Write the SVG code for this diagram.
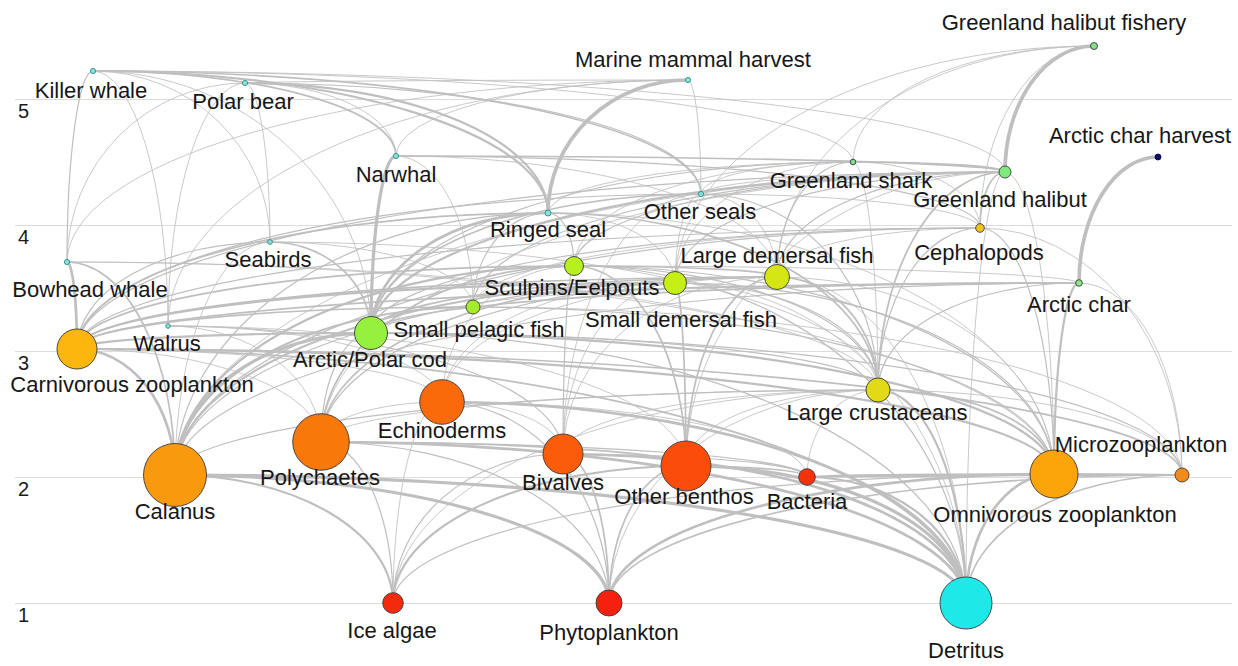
<svg xmlns="http://www.w3.org/2000/svg" width="1238" height="666" viewBox="0 0 1238 666">
<style>
.bg{fill:#ffffff}
.grid line{stroke:#dcdcdc;stroke-width:1}
.ax{font-family:"Liberation Sans",Arial,sans-serif;font-size:20px;fill:#1a1a1a}
.lb{font-family:"Liberation Sans",Arial,sans-serif;font-size:22px;fill:#161616;text-anchor:middle}
#connectors path{fill:none;stroke:#bfbfbf;stroke-linecap:round}
.a{stroke-width:0.85}
.b{stroke-width:1.2}
.c{stroke-width:1.7}
.d{stroke-width:2.2}
.e{stroke-width:2.7}
.f{stroke-width:3.2}
.g{stroke-width:3.7}
.n{stroke:#3a3a3a;stroke-width:0.9}
.m{fill:#86e3da;stroke:#2f8c86;stroke-width:0.9}
</style>
<rect class="bg" x="0" y="0" width="1238" height="666"/>
<g class="grid" id="grid">
<line x1="15" y1="99.5" x2="1232" y2="99.5"/>
<line x1="15" y1="225.5" x2="1232" y2="225.5"/>
<line x1="15" y1="351.5" x2="1232" y2="351.5"/>
<line x1="15" y1="477.5" x2="1232" y2="477.5"/>
<line x1="15" y1="603.5" x2="1232" y2="603.5"/>
<text class="ax" x="18" y="118">5</text>
<text class="ax" x="18" y="244">4</text>
<text class="ax" x="18" y="370">3</text>
<text class="ax" x="18" y="496">2</text>
<text class="ax" x="18" y="622">1</text>
</g>
<g id="connectors">
<path class="g" d="M548 213A140 133 0 0 1 688 80"/>
<path class="a" d="M701 194A13 114 0 0 0 688 80"/>
<path class="a" d="M396 156A292 76 0 0 1 688 80"/>
<path class="a" d="M168 326A520 246 0 0 1 688 80"/>
<path class="a" d="M67 262A621 182 0 0 1 688 80"/>
<path class="a" d="M245 83A443 3 0 0 1 688 80"/>
<path class="g" d="M1005 172A89 126 0 0 1 1094 46"/>
<path class="a" d="M853 162A241 116 0 0 1 1094 46"/>
<path class="a" d="M777 277A317 231 0 0 1 1094 46"/>
<path class="g" d="M1079 283A79 126 0 0 1 1158 157"/>
<path class="a" d="M675 283A419 237 0 0 1 1094 46"/>
<path class="a" d="M980 228A114 182 0 0 1 1094 46"/>
<path class="b" d="M67 262A26 191 0 0 1 93 71"/>
<path class="c" d="M396 156A303 85 0 0 0 93 71"/>
<path class="d" d="M548 213A455 142 0 0 0 93 71"/>
<path class="c" d="M701 194A608 123 0 0 0 93 71"/>
<path class="a" d="M168 326A75 255 0 0 0 93 71"/>
<path class="a" d="M371 333A278 262 0 0 0 93 71"/>
<path class="a" d="M1005 172A912 101 0 0 0 93 71"/>
<path class="a" d="M853 162A760 91 0 0 0 93 71"/>
<path class="a" d="M270 242A177 171 0 0 0 93 71"/>
<path class="d" d="M548 213A303 130 0 0 0 245 83"/>
<path class="b" d="M701 194A456 111 0 0 0 245 83"/>
<path class="a" d="M168 326A77 243 0 0 1 245 83"/>
<path class="a" d="M67 262A178 179 0 0 1 245 83"/>
<path class="a" d="M270 242A25 159 0 0 0 245 83"/>
<path class="a" d="M396 156A151 73 0 0 0 245 83"/>
<path class="f" d="M371 333A25 177 0 0 1 396 156"/>
<path class="c" d="M1005 172A609 16 0 0 0 396 156"/>
<path class="b" d="M980 228A584 72 0 0 0 396 156"/>
<path class="a" d="M777 277A381 121 0 0 0 396 156"/>
<path class="a" d="M473 307A77 151 0 0 0 396 156"/>
<path class="e" d="M371 333A177 120 0 0 1 548 213"/>
<path class="b" d="M473 307A75 94 0 0 1 548 213"/>
<path class="b" d="M574 266A26 53 0 0 0 548 213"/>
<path class="c" d="M878 390A330 177 0 0 0 548 213"/>
<path class="c" d="M77 349A471 136 0 0 1 548 213"/>
<path class="a" d="M1054 474A506 261 0 0 0 548 213"/>
<path class="b" d="M175 475A373 262 0 0 1 548 213"/>
<path class="a" d="M675 283A127 70 0 0 0 548 213"/>
<path class="c" d="M371 333A330 139 0 0 1 701 194"/>
<path class="b" d="M878 390A177 196 0 0 0 701 194"/>
<path class="a" d="M701 194A304 22 0 0 1 1005 172"/>
<path class="a" d="M675 283A26 89 0 0 1 701 194"/>
<path class="a" d="M980 228A279 34 0 0 0 701 194"/>
<path class="a" d="M777 277A76 83 0 0 0 701 194"/>
<path class="a" d="M563 454A138 260 0 0 1 701 194"/>
<path class="b" d="M77 349A624 155 0 0 1 701 194"/>
<path class="c" d="M371 333A101 91 0 0 0 270 242"/>
<path class="b" d="M77 349A193 107 0 0 1 270 242"/>
<path class="a" d="M473 307A203 65 0 0 0 270 242"/>
<path class="a" d="M175 475A95 233 0 0 1 270 242"/>
<path class="a" d="M878 390A608 148 0 0 0 270 242"/>
<path class="e" d="M77 349A10 87 0 0 0 67 262"/>
<path class="c" d="M175 475A108 213 0 0 0 67 262"/>
<path class="a" d="M1054 474A987 212 0 0 0 67 262"/>
<path class="a" d="M878 390A811 128 0 0 0 67 262"/>
<path class="b" d="M563 454A395 128 0 0 0 168 326"/>
<path class="a" d="M321 442A153 116 0 0 0 168 326"/>
<path class="a" d="M686 466A518 140 0 0 0 168 326"/>
<path class="a" d="M442 402A274 76 0 0 0 168 326"/>
<path class="a" d="M548 213A305 51 0 0 1 853 162"/>
<path class="a" d="M701 194A152 32 0 0 1 853 162"/>
<path class="c" d="M1005 172A152 10 0 0 0 853 162"/>
<path class="b" d="M777 277A76 115 0 0 1 853 162"/>
<path class="b" d="M371 333A482 171 0 0 1 853 162"/>
<path class="a" d="M980 228A127 66 0 0 0 853 162"/>
<path class="a" d="M574 266A279 104 0 0 1 853 162"/>
<path class="a" d="M675 283A178 121 0 0 1 853 162"/>
<path class="a" d="M878 390A25 228 0 0 0 853 162"/>
<path class="d" d="M371 333A634 161 0 0 1 1005 172"/>
<path class="c" d="M980 228A25 56 0 0 1 1005 172"/>
<path class="b" d="M777 277A228 105 0 0 1 1005 172"/>
<path class="b" d="M675 283A330 111 0 0 1 1005 172"/>
<path class="b" d="M574 266A431 94 0 0 1 1005 172"/>
<path class="c" d="M878 390A127 218 0 0 1 1005 172"/>
<path class="b" d="M473 307A532 135 0 0 1 1005 172"/>
<path class="a" d="M1054 474A49 302 0 0 0 1005 172"/>
<path class="b" d="M77 349A928 177 0 0 1 1005 172"/>
<path class="a" d="M175 475A830 303 0 0 1 1005 172"/>
<path class="a" d="M321 442A684 270 0 0 1 1005 172"/>
<path class="a" d="M686 466A319 294 0 0 1 1005 172"/>
<path class="b" d="M77 349A903 121 0 0 1 980 228"/>
<path class="b" d="M1054 474A74 246 0 0 0 980 228"/>
<path class="b" d="M175 475A805 247 0 0 1 980 228"/>
<path class="b" d="M371 333A609 105 0 0 1 980 228"/>
<path class="a" d="M473 307A507 79 0 0 1 980 228"/>
<path class="b" d="M878 390A102 162 0 0 1 980 228"/>
<path class="a" d="M1182 475A202 247 0 0 0 980 228"/>
<path class="c" d="M371 333A708 50 0 0 1 1079 283"/>
<path class="c" d="M77 349A1002 66 0 0 1 1079 283"/>
<path class="d" d="M1054 474A25 191 0 0 1 1079 283"/>
<path class="b" d="M878 390A201 107 0 0 1 1079 283"/>
<path class="b" d="M175 475A904 192 0 0 1 1079 283"/>
<path class="a" d="M473 307A606 24 0 0 1 1079 283"/>
<path class="a" d="M1079 283A505 17 0 0 0 574 266"/>
<path class="a" d="M1182 475A103 192 0 0 0 1079 283"/>
<path class="c" d="M371 333A406 56 0 0 1 777 277"/>
<path class="c" d="M777 277A203 11 0 0 0 574 266"/>
<path class="b" d="M675 283A102 6 0 0 1 777 277"/>
<path class="c" d="M878 390A101 113 0 0 0 777 277"/>
<path class="b" d="M321 442A456 165 0 0 1 777 277"/>
<path class="a" d="M563 454A214 177 0 0 1 777 277"/>
<path class="c" d="M686 466A91 189 0 0 1 777 277"/>
<path class="a" d="M442 402A335 125 0 0 1 777 277"/>
<path class="c" d="M77 349A700 72 0 0 1 777 277"/>
<path class="a" d="M1054 474A277 197 0 0 0 777 277"/>
<path class="b" d="M175 475A602 198 0 0 1 777 277"/>
<path class="a" d="M777 277A203 49 0 0 1 980 228"/>
<path class="c" d="M321 442A354 159 0 0 1 675 283"/>
<path class="c" d="M686 466A11 183 0 0 0 675 283"/>
<path class="b" d="M878 390A203 107 0 0 0 675 283"/>
<path class="d" d="M77 349A598 66 0 0 1 675 283"/>
<path class="d" d="M175 475A500 192 0 0 1 675 283"/>
<path class="b" d="M1054 474A379 191 0 0 0 675 283"/>
<path class="a" d="M563 454A112 171 0 0 1 675 283"/>
<path class="a" d="M442 402A233 119 0 0 1 675 283"/>
<path class="c" d="M321 442A253 176 0 0 1 574 266"/>
<path class="c" d="M686 466A112 200 0 0 0 574 266"/>
<path class="b" d="M563 454A11 188 0 0 1 574 266"/>
<path class="b" d="M878 390A304 124 0 0 0 574 266"/>
<path class="c" d="M77 349A497 83 0 0 1 574 266"/>
<path class="d" d="M175 475A399 209 0 0 1 574 266"/>
<path class="b" d="M1054 474A480 208 0 0 0 574 266"/>
<path class="a" d="M442 402A132 136 0 0 1 574 266"/>
<path class="d" d="M175 475A298 168 0 0 1 473 307"/>
<path class="c" d="M77 349A396 42 0 0 1 473 307"/>
<path class="b" d="M1054 474A581 167 0 0 0 473 307"/>
<path class="a" d="M1182 475A709 168 0 0 0 473 307"/>
<path class="f" d="M175 475A196 142 0 0 1 371 333"/>
<path class="d" d="M77 349A294 16 0 0 1 371 333"/>
<path class="d" d="M1054 474A683 141 0 0 0 371 333"/>
<path class="b" d="M1182 475A811 142 0 0 0 371 333"/>
<path class="b" d="M321 442A50 109 0 0 1 371 333"/>
<path class="b" d="M878 390A507 57 0 0 0 371 333"/>
<path class="d" d="M966 603A88 213 0 0 0 878 390"/>
<path class="c" d="M1054 474A176 84 0 0 0 878 390"/>
<path class="b" d="M175 475A703 85 0 0 1 878 390"/>
<path class="a" d="M321 442A557 52 0 0 1 878 390"/>
<path class="a" d="M686 466A192 76 0 0 1 878 390"/>
<path class="a" d="M563 454A315 64 0 0 1 878 390"/>
<path class="a" d="M609 603A269 213 0 0 1 878 390"/>
<path class="a" d="M393 603A485 213 0 0 1 878 390"/>
<path class="a" d="M1182 475A304 85 0 0 0 878 390"/>
<path class="a" d="M807 477A71 87 0 0 1 878 390"/>
<path class="e" d="M175 475A98 126 0 0 0 77 349"/>
<path class="d" d="M1054 474A977 125 0 0 0 77 349"/>
<path class="c" d="M1182 475A1105 126 0 0 0 77 349"/>
<path class="a" d="M321 442A244 93 0 0 0 77 349"/>
<path class="a" d="M442 402A365 53 0 0 0 77 349"/>
<path class="f" d="M609 603A434 128 0 0 0 175 475"/>
<path class="d" d="M393 603A218 128 0 0 0 175 475"/>
<path class="f" d="M966 603A791 128 0 0 0 175 475"/>
<path class="e" d="M609 603A445 129 0 0 1 1054 474"/>
<path class="b" d="M393 603A661 129 0 0 1 1054 474"/>
<path class="d" d="M1182 475A128 1 0 0 0 1054 474"/>
<path class="e" d="M966 603A88 129 0 0 1 1054 474"/>
<path class="c" d="M807 477A247 3 0 0 1 1054 474"/>
<path class="c" d="M609 603A573 128 0 0 1 1182 475"/>
<path class="d" d="M807 477A375 2 0 0 1 1182 475"/>
<path class="c" d="M966 603A216 128 0 0 1 1182 475"/>
<path class="e" d="M966 603A645 161 0 0 0 321 442"/>
<path class="b" d="M393 603A72 161 0 0 0 321 442"/>
<path class="b" d="M609 603A288 161 0 0 0 321 442"/>
<path class="b" d="M807 477A486 35 0 0 0 321 442"/>
<path class="c" d="M686 466A365 24 0 0 0 321 442"/>
<path class="e" d="M966 603A524 201 0 0 0 442 402"/>
<path class="a" d="M393 603A49 201 0 0 1 442 402"/>
<path class="b" d="M609 603A167 201 0 0 0 442 402"/>
<path class="a" d="M807 477A365 75 0 0 0 442 402"/>
<path class="a" d="M321 442A121 40 0 0 1 442 402"/>
<path class="a" d="M563 454A121 52 0 0 0 442 402"/>
<path class="e" d="M966 603A403 149 0 0 0 563 454"/>
<path class="c" d="M609 603A46 149 0 0 0 563 454"/>
<path class="b" d="M393 603A170 149 0 0 1 563 454"/>
<path class="b" d="M807 477A244 23 0 0 0 563 454"/>
<path class="f" d="M966 603A280 137 0 0 0 686 466"/>
<path class="c" d="M609 603A77 137 0 0 1 686 466"/>
<path class="d" d="M393 603A293 137 0 0 1 686 466"/>
<path class="c" d="M807 477A121 11 0 0 0 686 466"/>
<path class="d" d="M966 603A159 126 0 0 0 807 477"/>
<path class="c" d="M966 603A889 254 0 0 0 77 349"/>
<path class="b" d="M966 603A595 270 0 0 0 371 333"/>
<path class="b" d="M966 603A392 337 0 0 0 574 266"/>
<path class="a" d="M966 603A291 320 0 0 0 675 283"/>
<path class="a" d="M966 603A189 326 0 0 0 777 277"/>
<path class="a" d="M966 603A39 431 0 0 1 1005 172"/>
</g>
<g id="node-killer-whale"><circle class="m" cx="93" cy="71" r="2.6"/><text class="lb" x="91" y="98">Killer whale</text></g>
<g id="node-polar-bear"><circle class="m" cx="245" cy="83" r="2.6"/><text class="lb" x="243" y="109">Polar bear</text></g>
<g id="node-marine-mammal-harvest"><circle class="m" cx="688" cy="80" r="2.6"/><text class="lb" x="693" y="67">Marine mammal harvest</text></g>
<g id="node-narwhal"><circle class="m" cx="396" cy="156" r="2.6"/><text class="lb" x="396" y="182">Narwhal</text></g>
<g id="node-seabirds"><circle class="m" cx="270" cy="242" r="2.4"/><text class="lb" x="268" y="267">Seabirds</text></g>
<g id="node-bowhead-whale"><circle class="m" cx="67" cy="262" r="2.6"/><text class="lb" x="90" y="297">Bowhead whale</text></g>
<g id="node-walrus"><circle class="m" cx="168" cy="326" r="2.3"/><text class="lb" x="167" y="351">Walrus</text></g>
<g id="node-ringed-seal"><circle class="m" cx="548" cy="213" r="3"/><text class="lb" x="548" y="237">Ringed seal</text></g>
<g id="node-other-seals"><circle class="m" cx="701" cy="194" r="2.6"/><text class="lb" x="700" y="219">Other seals</text></g>
<g id="node-greenland-shark"><circle class="n" cx="853" cy="162" r="2.8" fill="#7fe08e"/><text class="lb" x="851" y="188">Greenland shark</text></g>
<g id="node-greenland-halibut"><circle class="n" cx="1005" cy="172" r="6" fill="#7eea7e"/><text class="lb" x="1000" y="207">Greenland halibut</text></g>
<g id="node-greenland-halibut-fishery"><circle class="n" cx="1094" cy="46" r="3.5" fill="#84e08a"/><text class="lb" x="1064" y="30">Greenland halibut fishery</text></g>
<g id="node-arctic-char-harvest"><circle cx="1158" cy="157" r="3" fill="#0b0b6a" stroke="#000033" stroke-width="0.8"/><text class="lb" x="1140" y="143">Arctic char harvest</text></g>
<g id="node-cephalopods"><circle class="n" cx="980" cy="228" r="4.3" fill="#f2c21e"/><text class="lb" x="979" y="260">Cephalopods</text></g>
<g id="node-arctic-char"><circle class="n" cx="1079" cy="283" r="3.3" fill="#8ee88a"/><text class="lb" x="1079" y="312">Arctic char</text></g>
<g id="node-sculpins-eelpouts"><circle class="n" cx="574" cy="266" r="9.5" fill="#b6f01e"/><text class="lb" x="572" y="295">Sculpins/Eelpouts</text></g>
<g id="node-small-demersal-fish"><circle class="n" cx="675" cy="283" r="11.5" fill="#c6f014"/><text class="lb" x="681" y="327">Small demersal fish</text></g>
<g id="node-large-demersal-fish"><circle class="n" cx="777" cy="277" r="12.5" fill="#d6e614"/><text class="lb" x="777" y="263">Large demersal fish</text></g>
<g id="node-small-pelagic-fish"><circle class="n" cx="473" cy="307" r="7" fill="#a4ec2c"/><text class="lb" x="479" y="337">Small pelagic fish</text></g>
<g id="node-arctic-polar-cod"><circle class="n" cx="371" cy="333" r="16.5" fill="#96f03e"/><text class="lb" x="370" y="367">Arctic/Polar cod</text></g>
<g id="node-carnivorous-zooplankton"><circle class="n" cx="77" cy="349" r="20" fill="#fcb60e"/><text class="lb" x="132" y="392">Carnivorous zooplankton</text></g>
<g id="node-large-crustaceans"><circle class="n" cx="878" cy="390" r="12" fill="#e2da16"/><text class="lb" x="877" y="420">Large crustaceans</text></g>
<g id="node-echinoderms"><circle class="n" cx="442" cy="402" r="22.3" fill="#fb6a0a"/><text class="lb" x="442" y="438">Echinoderms</text></g>
<g id="node-polychaetes"><circle class="n" cx="321" cy="442" r="28.3" fill="#f9780a"/><text class="lb" x="320" y="485">Polychaetes</text></g>
<g id="node-bivalves"><circle class="n" cx="563" cy="454" r="20" fill="#fa5c0a"/><text class="lb" x="563" y="490">Bivalves</text></g>
<g id="node-other-benthos"><circle class="n" cx="686" cy="466" r="25" fill="#fc4c0a"/><text class="lb" x="684" y="504">Other benthos</text></g>
<g id="node-calanus"><circle class="n" cx="175" cy="475" r="31.5" fill="#f9990e"/><text class="lb" x="175" y="519">Calanus</text></g>
<g id="node-bacteria"><circle class="n" cx="807" cy="477" r="8.3" fill="#f5320c"/><text class="lb" x="807" y="509">Bacteria</text></g>
<g id="node-omnivorous-zooplankton"><circle class="n" cx="1054" cy="474" r="24" fill="#fca50a"/><text class="lb" x="1055" y="522">Omnivorous zooplankton</text></g>
<g id="node-microzooplankton"><circle class="n" cx="1182" cy="475" r="7" fill="#f28a1e"/><text class="lb" x="1141" y="452">Microzooplankton</text></g>
<g id="node-ice-algae"><circle class="n" cx="393" cy="603" r="10.3" fill="#f52a0c"/><text class="lb" x="392" y="638">Ice algae</text></g>
<g id="node-phytoplankton"><circle class="n" cx="609" cy="603" r="13" fill="#f6200e"/><text class="lb" x="609" y="640">Phytoplankton</text></g>
<g id="node-detritus"><circle class="n" cx="966" cy="603" r="26" fill="#1fe8e8"/><text class="lb" x="966" y="658">Detritus</text></g>
</svg>
